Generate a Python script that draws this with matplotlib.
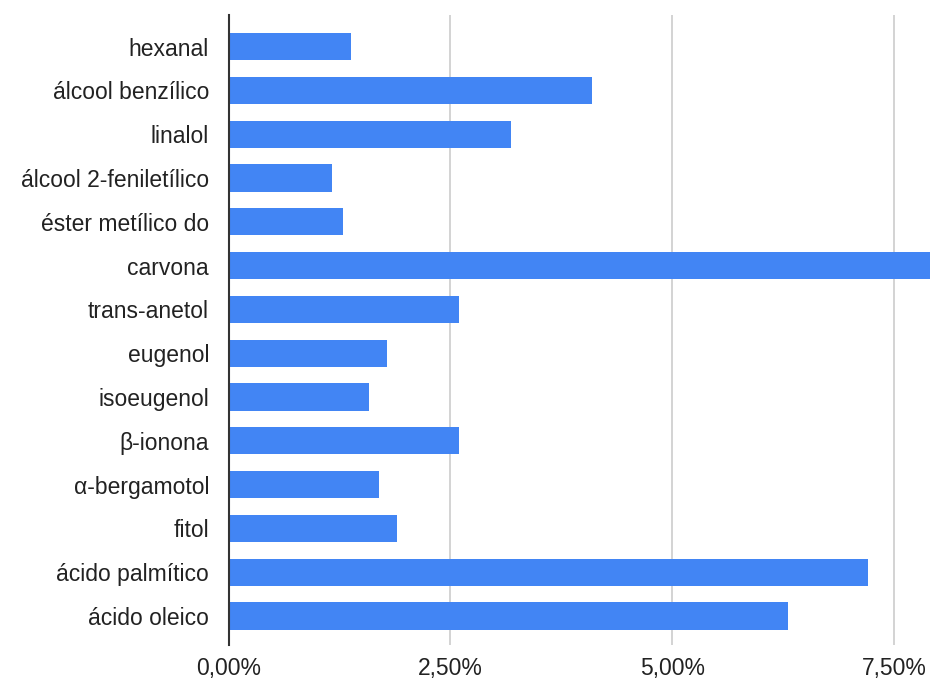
import matplotlib.pyplot as plt
from matplotlib.ticker import FuncFormatter

plt.rcParams["font.family"] = ["Liberation Sans", "DejaVu Sans"]

# Compounds and their share (%)
compounds = [
    "hexanal", "álcool benzílico", "linalol", "álcool 2-feniletílico",
    "éster metílico do", "carvona", "trans-anetol", "eugenol", "isoeugenol",
    "β-ionona", "α-bergamotol", "fitol", "ácido palmítico", "ácido oleico",
]
values = [1.38, 4.09, 3.18, 1.17, 1.29, 8.0, 2.60, 1.78, 1.58, 2.60, 1.69, 1.90, 7.20, 6.30]
xticks = [0, 2.5, 5.0, 7.5]

fig = plt.figure(figsize=(9.3, 6.81), dpi=100)
ax = fig.add_axes([0.2457, 0.053, 0.7543, 0.925])

ax.barh(range(len(compounds)), values, height=0.62, color="#4285f4", zorder=3)

ax.set_xlim(0, 7.9)
ax.set_ylim(len(compounds) - 1 + 0.66, -0.72)
ax.set_yticks(range(len(compounds)))
ax.set_yticklabels(compounds)
ax.set_xticks(xticks)
ax.xaxis.set_major_formatter(FuncFormatter(lambda v, p: f"{v:.2f}%".replace(".", ",")))

ax.grid(axis="x", color="#cccccc", linewidth=1.2, zorder=0)
for s in ["top", "right", "bottom"]:
    ax.spines[s].set_visible(False)
ax.spines["left"].set_color("#333333")
ax.spines["left"].set_linewidth(1.5)
ax.spines["left"].set_zorder(4)
ax.tick_params(axis="both", length=0, labelsize=16.5, colors="#222222")
ax.tick_params(axis="y", pad=14)
ax.tick_params(axis="x", pad=9)

fig.savefig("out.png", dpi=100)
